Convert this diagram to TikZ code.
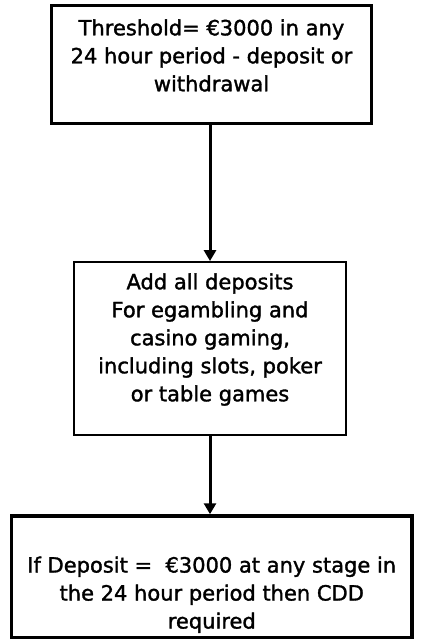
\documentclass[tikz,border=0pt]{standalone}
\usepackage{fontspec}
\setmainfont[FakeBold=1.5,AutoFakeBold=1.5]{DejaVu Sans}
\usetikzlibrary{arrows.meta}
\begin{document}
\begin{tikzpicture}[x=1pt,y=1pt,
  thickbox/.style={draw=black, line width=3.5pt, inner sep=0pt},
  thinbox/.style={draw=black, line width=1.8pt, inner sep=0pt},
  txt/.style={align=center, font=\fontsize{21pt}{28pt}\selectfont\bfseries, inner sep=0pt, text=black},
  flow/.style={line width=3pt, -{Triangle[width=12pt,length=11pt]}}]
\useasboundingbox[fill=white] (0,0) rectangle (420,-639);
\node[thickbox, minimum width=320.4pt, minimum height=117.6pt] (b1) at (211.5,-64.5) {};
\node[txt] (t1) at ([yshift=9pt]b1.center) {Threshold= €3000 in any\\24 hour period - deposit or\\withdrawal};
\node[thinbox, minimum width=272pt, minimum height=173pt] (b2) at (210,-348.5) {};
\node[txt] (t2) at ([yshift=9pt]b2.center) {Add all deposits\\For egambling and\\casino gaming,\\including slots, poker\\or table games};
\node[thickbox, minimum width=400.5pt, minimum height=121.5pt] (b3) at (211.75,-576.75) {};
\node[txt] (t3) at ([yshift=-18pt]b3.center) {If Deposit =\ \ €3000 at any stage in\\the 24 hour period then CDD\\required};
\draw[flow] (b1.south -| b2.north) -- (b2.north);
\draw[flow] (b2.south) -- (b2.south |- b3.north);
\end{tikzpicture}
\end{document}
